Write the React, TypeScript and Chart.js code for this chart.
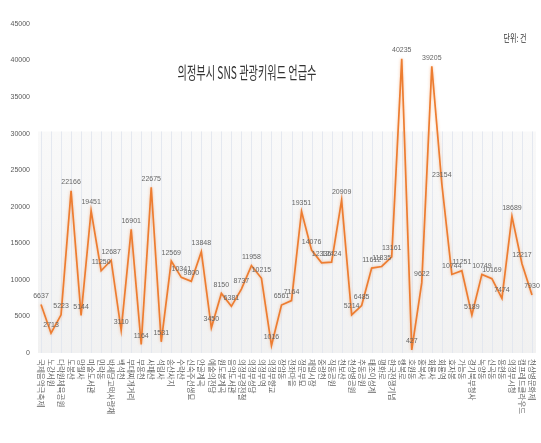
import React, { useEffect, useRef } from "react";
import { Chart, registerables } from "chart.js";

Chart.register(...registerables);

const TITLE = "의정부시 SNS 관광키워드 언급수";
const UNIT = "단위: 건";

const keywords = [
  "국제음악극축제", "노강서원", "다락원체육공원", "도봉산", "망월사",
  "미술도서관", "민락동", "박세당고택사랑채", "백석천", "부대찌개거리",
  "부용천", "사패산", "석림사", "송산사지", "수락산",
  "신숙주선생묘", "안골계곡", "예술의전당", "원도봉계곡", "음악도서관",
  "의정부경전철", "의정부성당", "의정부역", "의정부향교", "장암동",
  "전좌마을", "정문부묘", "제일시장", "중랑천", "직동공원",
  "천보산", "천상병공원", "추동공원", "태조이성계", "평화로",
  "한국전쟁기념", "행복로", "호원동", "홍복사", "회룡사",
  "회룡역", "효자봉", "가능동", "경기북부청사", "녹양동",
  "신곡동", "용현동", "의정부시청", "캠프레드클라우드", "천상병문화제"
];

const mentions = [
  6637, 2713, 5223, 22166, 5144, 19451, 11250, 12687, 3110, 16901,
  1164, 22675, 1531, 12569, 10341, 9800, 13848, 3450, 8150, 6381,
  8737, 11958, 10215, 1016, 6561, 7164, 19351, 14076, 12336, 12424,
  20909, 5214, 6485, 11612, 11835, 13161, 40235, 427, 9622, 39205,
  23154, 10744, 11251, 5189, 10749, 10169, 7474, 18689, 12217, 7930
];

const yTicks = [0, 5000, 10000, 15000, 20000, 25000, 30000, 35000, 40000, 45000];

const decorPlugin = {
  id: "decor",
  beforeDatasetsDraw(chart: any) {
    const { ctx, chartArea, scales } = chart;
    const top = scales.y.getPixelForValue(30300);
    const bottom = chartArea.bottom;
    ctx.save();
    const g = ctx.createLinearGradient(0, top, 0, bottom);
    g.addColorStop(0, "#f9f9f9");
    g.addColorStop(1, "#f1f1f1");
    ctx.fillStyle = g;
    ctx.fillRect(chartArea.left + 2, top, chartArea.right - chartArea.left - 3, bottom - top);
    ctx.strokeStyle = "rgba(225,230,238,0.9)";
    ctx.lineWidth = 1;
    for (let i = 0; i < keywords.length; i++) {
      const x = Math.round(scales.x.getPixelForValue(i)) + 0.5;
      ctx.beginPath();
      ctx.moveTo(x, top);
      ctx.lineTo(x, bottom);
      ctx.stroke();
    }
    ctx.restore();
  },
  beforeDatasetDraw(chart: any) {
    const ctx = chart.ctx;
    ctx.save();
    ctx.shadowColor = "rgba(237,125,49,0.45)";
    ctx.shadowBlur = 3;
  },
  afterDatasetDraw(chart: any) {
    chart.ctx.restore();
  },
  afterDraw(chart: any) {
    const { ctx, chartArea, scales } = chart;
    ctx.save();
    // data labels
    const meta = chart.getDatasetMeta(0);
    ctx.font = "7px 'Liberation Sans', sans-serif";
    ctx.fillStyle = "#666666";
    ctx.textAlign = "center";
    ctx.textBaseline = "bottom";
    meta.data.forEach((pt: any, i: number) => {
      ctx.fillText(String(mentions[i]), pt.x, pt.y - 5);
    });
    // x labels, rotated clockwise
    ctx.font = "7.5px 'Noto Sans CJK KR', sans-serif";
    ctx.fillStyle = "#666666";
    ctx.textAlign = "left";
    ctx.textBaseline = "middle";
    for (let i = 0; i < keywords.length; i++) {
      const x = scales.x.getPixelForValue(i);
      ctx.save();
      ctx.translate(x, chartArea.bottom + 6);
      ctx.rotate(Math.PI / 2);
      ctx.fillText(keywords[i], 0, 0);
      ctx.restore();
    }
    // title
    ctx.save();
    ctx.translate(247, 73);
    ctx.scale(0.6, 1);
    ctx.font = "17px 'Noto Sans CJK KR', sans-serif";
    ctx.fillStyle = "#333333";
    ctx.textAlign = "center";
    ctx.textBaseline = "middle";
    ctx.fillText(TITLE, 0, 0);
    ctx.restore();
    // unit
    ctx.save();
    ctx.translate(515, 38);
    ctx.scale(0.7, 1);
    ctx.font = "10px 'Noto Sans CJK KR', sans-serif";
    ctx.fillStyle = "#333333";
    ctx.textAlign = "center";
    ctx.textBaseline = "middle";
    ctx.fillText(UNIT, 0, 0);
    ctx.restore();
    ctx.restore();
  },
};

export default function App() {
  const ref = useRef<HTMLCanvasElement | null>(null);
  useEffect(() => {
    if (!ref.current) return;
    const chart = new Chart(ref.current, {
      type: "line",
      data: {
        labels: keywords,
        datasets: [
          {
            data: mentions,
            borderColor: "#ED7D31",
            borderWidth: 1.7,
            pointRadius: 0,
            tension: 0,
            fill: false,
          },
        ],
      },
      options: {
        responsive: false,
        animation: false,
        layout: { padding: { top: 24, bottom: 82, right: 4, left: 0 } },
        plugins: { legend: { display: false }, tooltip: { enabled: false }, title: { display: false } },
        scales: {
          x: {
            offset: true,
            grid: { display: false },
            border: { display: false },
            ticks: { display: false },
          },
          y: {
            min: 0,
            max: 45000,
            afterFit: (scale: any) => { scale.width = 36; },
            afterBuildTicks: (scale: any) => { scale.ticks = yTicks.map((v) => ({ value: v })); },
            grid: { display: false, drawTicks: false },
            border: { display: false },
            ticks: {
              padding: 6,
              color: "#595959",
              font: { size: 7, family: "'Liberation Sans', sans-serif" },
              callback: (v: any) => String(v),
            },
          },
        },
      },
      plugins: [decorPlugin],
    });
    return () => chart.destroy();
  }, []);
  return (
    <div style={{ position: "fixed", left: 0, top: 0, width: 541, height: 443, background: "#fff" }}>
      <canvas ref={ref} width={541} height={443} />
    </div>
  );
}
